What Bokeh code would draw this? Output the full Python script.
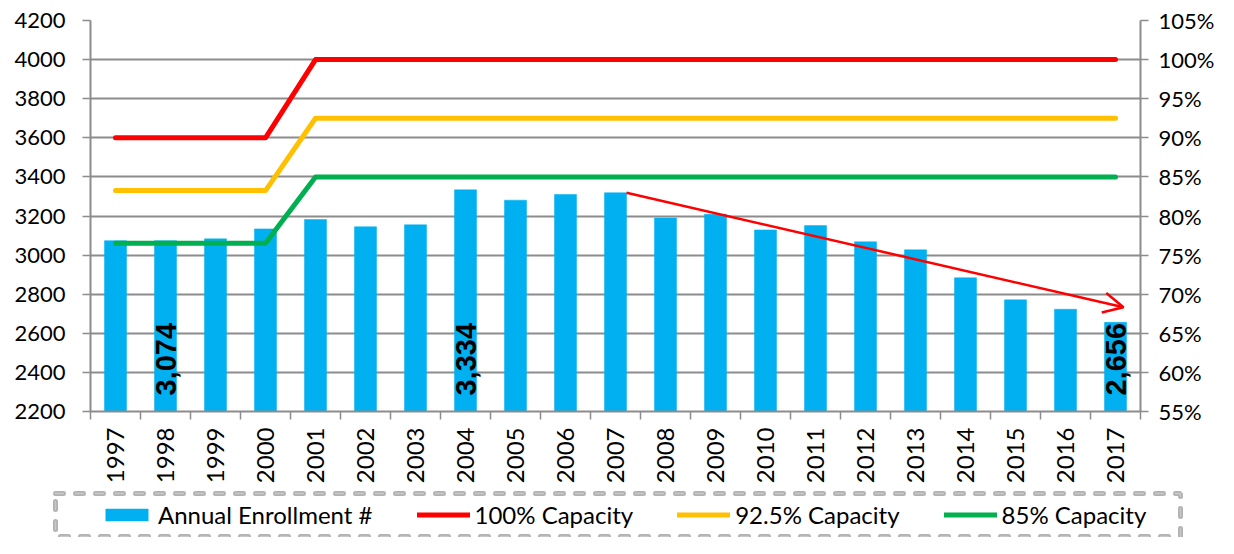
import math
from bokeh.plotting import figure
from bokeh.layouts import column
from bokeh.models import (Range1d, LinearAxis, FixedTicker, PrintfTickFormatter, Grid,
                          Legend, LegendItem, Arrow, OpenHead, ColumnDataSource, BoxAnnotation)
from bokeh.core.properties import value
from bokeh.embed import file_html
from bokeh.resources import INLINE

years = ["1997", "1998", "1999", "2000", "2001", "2002", "2003", "2004", "2005", "2006", "2007",
         "2008", "2009", "2010", "2011", "2012", "2013", "2014", "2015", "2016", "2017"]
enrollment = [3074, 3074, 3083, 3134, 3182, 3145, 3155, 3334, 3281, 3310, 3319,
              3190, 3209, 3129, 3151, 3068, 3027, 2884, 2771, 2723, 2656]
cap100 = [3600, 3600, 3600, 3600, 4000, 4000, 4000, 4000, 4000, 4000, 4000,
          4000, 4000, 4000, 4000, 4000, 4000, 4000, 4000, 4000, 4000]
cap925 = [3330, 3330, 3330, 3330, 3700, 3700, 3700, 3700, 3700, 3700, 3700,
          3700, 3700, 3700, 3700, 3700, 3700, 3700, 3700, 3700, 3700]
cap85 = [3060, 3060, 3060, 3060, 3400, 3400, 3400, 3400, 3400, 3400, 3400,
         3400, 3400, 3400, 3400, 3400, 3400, 3400, 3400, 3400, 3400]
labeled_years = ["1998", "2004", "2017"]
left_ticks = [2200, 2400, 2600, 2800, 3000, 3200, 3400, 3600, 3800, 4000, 4200]
right_ticks = [55, 60, 65, 70, 75, 80, 85, 90, 95, 100, 105]
series_names = ["Annual Enrollment #", "100% Capacity", "92.5% Capacity", "85% Capacity"]
trend_start_year = "2007"
trend_end_year = "2017"
trend_end_value = 2733

BLUE = "#00B0F0"
RED = "#FF0000"
YELLOW = "#FFC000"
GREEN = "#00B050"
GRID = "#8C8C8C"
FONT = "Lato"
FS = "22px"

xs = [i + 0.5 for i in range(len(years))]

p = figure(frame_width=1050, frame_height=391, output_backend="svg", toolbar_location=None,
           x_axis_type=None, y_axis_type=None,
           x_range=Range1d(0, len(years)), y_range=Range1d(2200, 4200),
           min_border_left=90, min_border_right=78, min_border_top=20, min_border_bottom=76)
p.outline_line_color = None


def style_axis(ax, standoff, tick_out):
    ax.major_tick_out = tick_out
    ax.major_tick_in = 0
    ax.minor_tick_out = 0
    ax.minor_tick_in = 0
    ax.major_tick_line_color = GRID
    ax.major_tick_line_width = 1.5
    ax.axis_line_color = GRID
    ax.axis_line_width = 2
    ax.major_label_standoff = standoff
    ax.major_label_text_font = FONT
    ax.major_label_text_font_size = FS
    ax.major_label_text_color = "black"


xaxis = LinearAxis(ticker=FixedTicker(ticks=xs, minor_ticks=list(range(len(years) + 1))))
xaxis.major_label_overrides = {x: y for x, y in zip(xs, years)}
xaxis.major_label_orientation = math.pi / 2
style_axis(xaxis, 8, 0)
xaxis.major_label_text_font_size = "24px"
xaxis.minor_tick_out = 8
xaxis.minor_tick_line_color = GRID
xaxis.minor_tick_line_width = 1.5
p.add_layout(xaxis, "below")

yaxis = LinearAxis(ticker=FixedTicker(ticks=left_ticks))
style_axis(yaxis, 17, 8)
p.add_layout(yaxis, "left")

p.extra_y_ranges = {"pct": Range1d(55, 105)}
raxis = LinearAxis(y_range_name="pct", ticker=FixedTicker(ticks=right_ticks),
                   formatter=PrintfTickFormatter(format="%d%%"))
style_axis(raxis, 10, 8)
p.add_layout(raxis, "right")

p.add_layout(Grid(dimension=1, ticker=FixedTicker(ticks=left_ticks),
                  grid_line_color=GRID, grid_line_width=2))

src = ColumnDataSource(dict(x=xs, year=years, enr=enrollment, c100=cap100, c925=cap925, c85=cap85))

bar_style = dict(fill_color=BLUE, line_color=BLUE, line_width=0.5)
line_styles = [dict(line_color=c, line_width=5, line_cap="round", line_join="round")
               for c in (RED, YELLOW, GREEN)]

p.vbar(x="x", top="enr", bottom=2200, width=0.44, source=src, **bar_style)
for col, st in zip(["c100", "c925", "c85"], line_styles):
    p.line("x", col, source=src, **st)

# data labels
lab_x = [xs[years.index(y)] for y in labeled_years]
lab_t = [f"{enrollment[years.index(y)]:,}" for y in labeled_years]
p.text(x=lab_x, y=[2282] * len(lab_x), text=lab_t, angle=math.pi / 2,
       text_align="left", text_baseline="middle", text_font=value("Liberation Sans"),
       text_font_style="bold", text_font_size="29px", text_color="black")

# trend arrow
si = years.index(trend_start_year)
ei = years.index(trend_end_year)
p.add_layout(Arrow(end=OpenHead(size=20, line_color=RED, line_width=2.5),
                   x_start=xs[si] + 0.22, y_start=enrollment[si],
                   x_end=xs[ei] + 0.16, y_end=trend_end_value,
                   line_color=RED, line_width=2.5))

# legend strip (own figure, pixel-like ranges)
lf = figure(width=1218, height=50, output_backend="svg", toolbar_location=None,
            x_axis_type=None, y_axis_type=None, x_range=Range1d(0, 1218), y_range=Range1d(0, 50),
            min_border_left=0, min_border_right=0, min_border_top=0, min_border_bottom=0)
lf.outline_line_color = None
for fig in (p, lf):
    if "frame_align" in fig.properties():
        fig.frame_align = False

nan = float("nan")
dummy = ColumnDataSource(dict(x=[nan], y=[nan], top=[nan]))
r_bar = lf.vbar(x="x", top="top", width=1, source=dummy, **bar_style)
r_lines = [lf.line("x", "y", source=dummy, **st) for st in line_styles]

for lw, lc in [(5, "black"), (1.4, "white")]:
    lf.add_layout(BoxAnnotation(left=55, right=1180, bottom=1, top=44, fill_alpha=0,
                                line_color=lc, line_width=lw, line_dash="8 12", line_cap="round"))

legend = Legend(items=[LegendItem(label=n, renderers=[r]) for n, r in zip(series_names, [r_bar] + r_lines)],
                location=(100, 8), orientation="horizontal",
                glyph_width=53, glyph_height=15, label_standoff=5, spacing=44,
                padding=0, margin=0, border_line_alpha=0, background_fill_alpha=0,
                label_text_font=FONT, label_text_font_size="24px", label_text_color="black")
lf.add_layout(legend)

open("out.html", "w").write(file_html(column(p, lf, spacing=0), INLINE))
